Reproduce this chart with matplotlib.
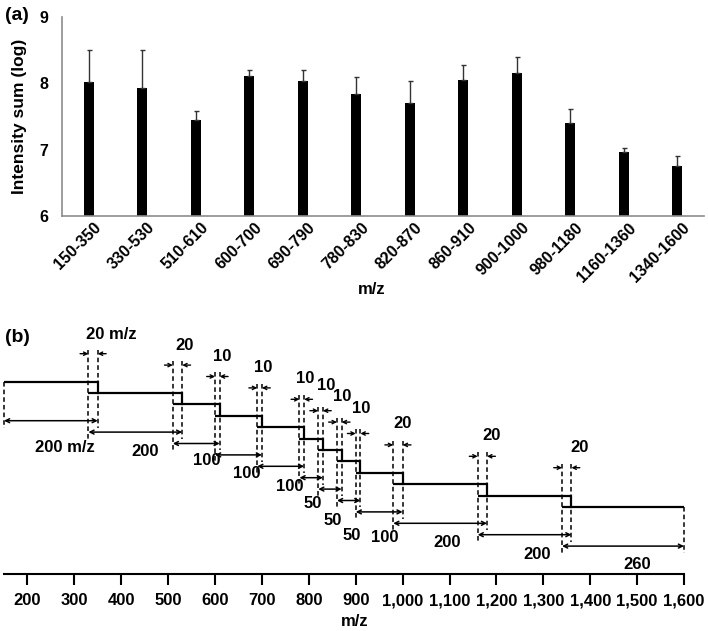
import numpy as np
import matplotlib
matplotlib.use('Agg')
import matplotlib.pyplot as plt
from matplotlib.transforms import ScaledTranslation

plt.rcParams['font.family'] = ['Liberation Sans', 'DejaVu Sans']
plt.rcParams['font.weight'] = 'bold'

# (a) intensity sum per m/z window
ranges = ['150-350', '330-530', '510-610', '600-700', '690-790', '780-830',
          '820-870', '860-910', '900-1000', '980-1180', '1160-1360', '1340-1600']
intensity = [8.02, 7.93, 7.44, 8.11, 8.03, 7.84, 7.70, 8.05, 8.16, 7.40, 6.96, 6.76]
err_up = [0.48, 0.58, 0.15, 0.09, 0.17, 0.25, 0.33, 0.23, 0.23, 0.22, 0.06, 0.15]

# (b) window start / end
win_start = [150, 330, 510, 600, 690, 780, 820, 860, 900, 980, 1160, 1340]
win_end = [350, 530, 610, 700, 790, 830, 870, 910, 1000, 1180, 1360, 1600]
axis_ticks = list(range(200, 1601, 100))

W, H = 708, 631
fig = plt.figure(figsize=(W / 100, H / 100), dpi=100)

# ---------------- panel (a) ----------------
ax1 = fig.add_axes([62 / W, 1 - 216 / H, 642 / W, 199 / H])
x = np.arange(len(ranges))
ax1.bar(x, intensity, width=0.19, color='black',
        yerr=[np.zeros(len(err_up)), err_up],
        error_kw=dict(ecolor='#333333', elinewidth=1.0, capsize=1.8, capthick=1.0))
ax1.set_xlim(-0.5, len(ranges) - 0.5)
ax1.set_ylim(6, 9)
ax1.set_yticks([6, 7, 8, 9])
ax1.set_xticks(x)
ax1.set_xticklabels(ranges, rotation=45, ha='right', va='top', rotation_mode='anchor')
ax1.tick_params(axis='y', length=0, pad=10, labelsize=11.5)
ax1.tick_params(axis='x', length=0, pad=3, labelsize=11.5)
shift = ScaledTranslation(0.05, 0, fig.dpi_scale_trans)
for lab in ax1.get_xticklabels():
    lab.set_transform(lab.get_transform() + shift)
for s in ['top', 'right']:
    ax1.spines[s].set_visible(False)
for s in ['left', 'bottom']:
    ax1.spines[s].set_color('#8c8c8c')
    ax1.spines[s].set_linewidth(1.2)

fig.text(20 / W, 1 - 116 / H, 'Intensity sum (log)', rotation=90,
         ha='center', va='center', fontsize=12.5)
fig.text(372 / W, 1 - 290 / H, 'm/z', ha='center', va='center', fontsize=12)
fig.text(5 / W, 1 - 15 / H, '(a)', ha='left', va='center', fontsize=14)

# ---------------- panel (b) ----------------
ax2 = fig.add_axes([4 / W, 1 - 574 / H, 680 / W, (574 - 325) / H])
ax2.set_xlim(150, 1600)
ax2.set_ylim(574, 325)   # y in pixels from top of the figure
ax2.set_yticks([])
ax2.set_xticks(axis_ticks)
ax2.set_xticklabels(['{:,}'.format(t) for t in axis_ticks])
ax2.tick_params(axis='x', direction='out', length=8, width=1.5, pad=6, labelsize=12)
for s in ['top', 'right', 'left']:
    ax2.spines[s].set_visible(False)
ax2.spines['bottom'].set_linewidth(1.5)
ax2.spines['bottom'].set_color('black')

fig.text(355 / W, 1 - 621 / H, 'm/z', ha='center', va='center', fontsize=12)
fig.text(5 / W, 1 - 338 / H, '(b)', ha='left', va='center', fontsize=14)

level0, step = 381.7, 11.4
arrow_gap, ovl_gap = 39, 28
# label nudges (m/z, px)
w_dx = [30, 20, 22, 17, 20, 3, 7, 6, 11, 14, 26, 30]
w_dy = [27, 19.4, 16.7, 18.3, 20, 25.7, 31.7, 35, 25.4, 19.3, 20, 18]
o_dx = [38, 16, 11, 8, 7, 11.6, 7, 5.6, 10, 20, 27]
o_dy = [-18.7, -19.1, -19.8, -20.6, -21, -25, -25.4, -25.2, -20.9, -20.6, -20.4]

dash = dict(color='black', lw=1.1, linestyle=(0, (3, 2)), clip_on=False)
n = len(win_start)
for i in range(n):
    s, e = win_start[i], win_end[i]
    lv = level0 + step * i
    row = lv + arrow_gap
    ax2.plot([s, e], [lv, lv], color='black', lw=1.6, solid_capstyle='butt', clip_on=False)
    if i < n - 1:
        ax2.plot([e, e], [lv, lv + step], color='black', lw=1.6, clip_on=False)
    top_left = lv if i == 0 else lv - step - ovl_gap - 4
    top_right = lv - ovl_gap - 4 if i < n - 1 else lv
    ax2.plot([s, s], [top_left, row + 7], **dash)
    ax2.plot([e, e], [top_right, row + 7], **dash)
    ax2.annotate('', xy=(e, row), xytext=(s, row), annotation_clip=False,
                 arrowprops=dict(arrowstyle='<->', lw=1.1, color='black',
                                 shrinkA=0, shrinkB=0, mutation_scale=7))
    lab = str(e - s) + (' m/z' if i == 0 else '')
    ax2.text((s + e) / 2 + w_dx[i], row + w_dy[i], lab, ha='center', va='center',
             fontsize=12, clip_on=False)

for i in range(n - 1):
    lv = level0 + step * i
    orow = lv - ovl_gap
    s_next, e_cur = win_start[i + 1], win_end[i]
    ax2.annotate('', xy=(s_next, orow), xytext=(-6, 0), textcoords='offset points',
                 xycoords='data', annotation_clip=False,
                 arrowprops=dict(arrowstyle='->', lw=1.0, color='black',
                                 shrinkA=0, shrinkB=0, mutation_scale=6))
    ax2.annotate('', xy=(e_cur, orow), xytext=(6, 0), textcoords='offset points',
                 xycoords='data', annotation_clip=False,
                 arrowprops=dict(arrowstyle='->', lw=1.0, color='black',
                                 shrinkA=0, shrinkB=0, mutation_scale=6))
    lab = str(e_cur - s_next) + (' m/z' if i == 0 else '')
    ax2.text((s_next + e_cur) / 2 + o_dx[i], orow + o_dy[i], lab, ha='center',
             va='center', fontsize=12, clip_on=False)

fig.savefig('out.png', dpi=100)
